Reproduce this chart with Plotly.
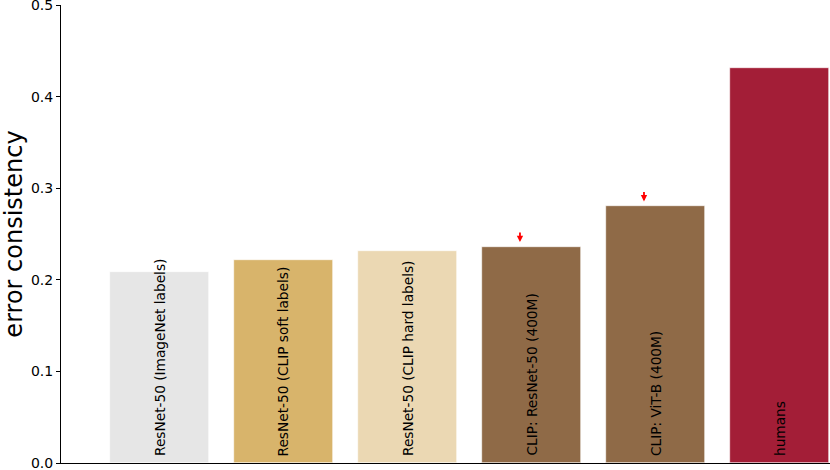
import plotly.graph_objects as go

# ==========================================================================
# Data
# ==========================================================================
models = [
    "ResNet-50 (ImageNet labels)",
    "ResNet-50 (CLIP soft labels)",
    "ResNet-50 (CLIP hard labels)",
    "CLIP: ResNet-50 (400M)",
    "CLIP: ViT-B (400M)",
    "humans",
]
error_consistency = [0.2085, 0.2216, 0.2314, 0.2363, 0.2806, 0.431]
bar_colors = ["#e6e6e6", "#d8b46b", "#ebd8b3", "#8f6a47", "#8f6a47", "#a31e37"]
arrow_models = [3, 4]
tick_vals = [0.0, 0.1, 0.2, 0.3, 0.4, 0.5]

x_pos = list(range(len(models)))

fig = go.Figure()
fig.add_trace(go.Bar(
    x=x_pos,
    y=error_consistency,
    width=0.8,
    marker=dict(color=bar_colors, line=dict(color="white", width=0.6)),
    hoverinfo="skip",
))

# Rotated labels inside the bars, anchored at the bottom
for i, name in zip(x_pos, models):
    fig.add_annotation(
        x=i, y=0, text=name, textangle=-90,
        xanchor="center", yanchor="bottom", yshift=5,
        showarrow=False,
        font=dict(family="DejaVu Sans", size=13.7, color="black"),
    )

# Small red arrows above the CLIP bars
for i in arrow_models:
    fig.add_annotation(
        x=i - 0.093, y=error_consistency[i] + 0.005,
        ax=0, ay=-11, text="",
        showarrow=True, arrowhead=2, arrowsize=0.7, arrowwidth=1.8,
        arrowcolor="red",
    )

fig.update_layout(
    width=830,
    height=470,
    margin=dict(l=61, r=0, t=5, b=7, pad=0),
    plot_bgcolor="white",
    paper_bgcolor="white",
    showlegend=False,
    bargap=0,
    font=dict(family="DejaVu Sans", color="black"),
)
fig.update_xaxes(
    range=[-0.794, 5.407], automargin=False,
    showline=True, linecolor="black", linewidth=1,
    showticklabels=False, ticks="", showgrid=False, zeroline=False,
)
fig.update_yaxes(
    range=[0, 0.5], automargin=False,
    tickvals=tick_vals, tickformat=".1f",
    ticks="outside", ticklen=4, tickcolor="black",
    tickfont=dict(size=14, color="black"),
    ticklabeloverflow="allow",
    showline=True, linecolor="black", linewidth=1,
    showgrid=False, zeroline=False,
    title=dict(text="error consistency", font=dict(size=24, color="black"), standoff=10),
)

# page has a default body margin; drop it so the figure sits at the corner
fig.write_html(
    "out.html",
    config={"displayModeBar": False},
    post_script="document.body.style.margin='0';",
)
